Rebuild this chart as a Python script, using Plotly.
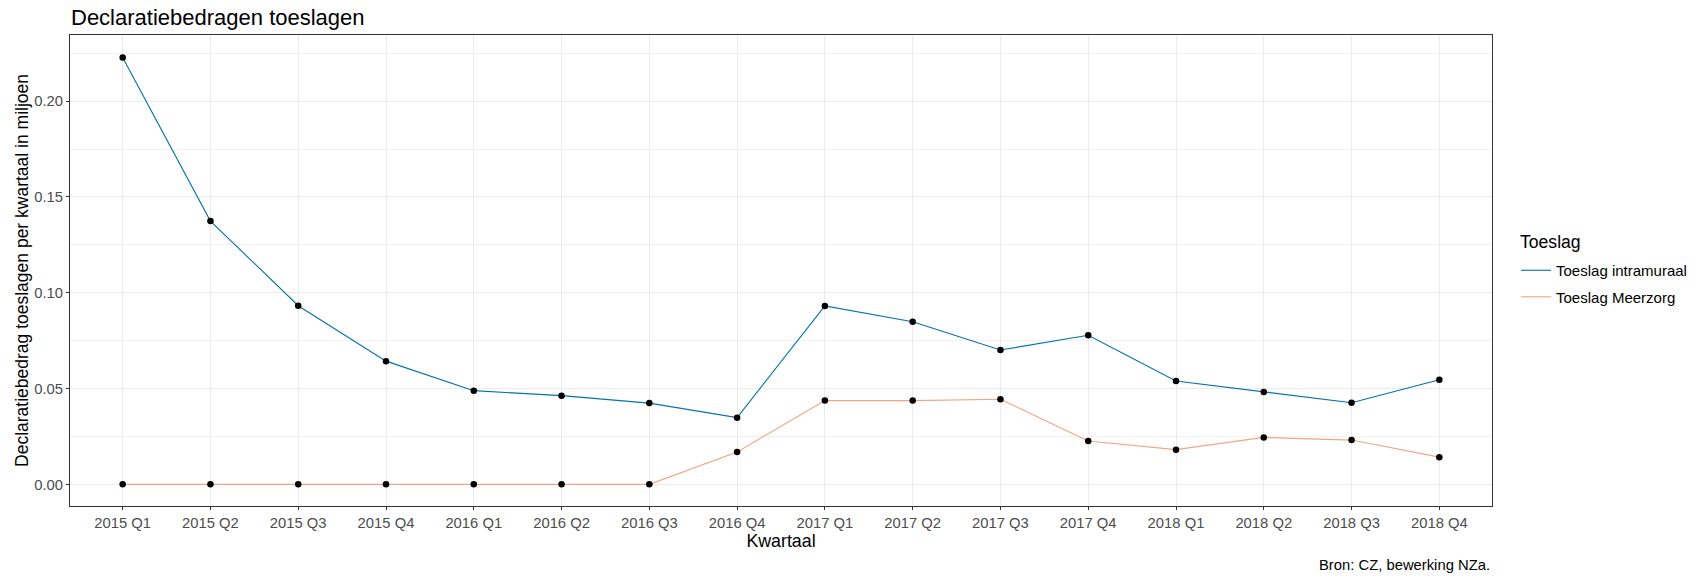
import plotly.graph_objects as go

kwartalen = ["2015 Q1", "2015 Q2", "2015 Q3", "2015 Q4", "2016 Q1", "2016 Q2", "2016 Q3", "2016 Q4",
             "2017 Q1", "2017 Q2", "2017 Q3", "2017 Q4", "2018 Q1", "2018 Q2", "2018 Q3", "2018 Q4"]
intramuraal = [0.2227, 0.1374, 0.0932, 0.0643, 0.0489, 0.0463, 0.0424, 0.0348,
               0.0931, 0.0849, 0.0701, 0.0778, 0.0539, 0.0482, 0.0426, 0.0546]
meerzorg = [0.0, 0.0, 0.0, 0.0, 0.0, 0.0, 0.0, 0.0169,
            0.0437, 0.0437, 0.0444, 0.0226, 0.0181, 0.0245, 0.0231, 0.0142]

FONT = "Liberation Sans"
blauw = "#0571B0"
oranje = "#F4A582"

fig = go.Figure()
# lijnen (alleen deze in de legenda), elk in eigen groep voor extra ruimte
fig.add_trace(go.Scatter(x=kwartalen, y=intramuraal, mode="lines", name="Toeslag intramuraal",
                         legendgroup="a", line=dict(color=blauw, width=1.1)))
fig.add_trace(go.Scatter(x=kwartalen, y=meerzorg, mode="lines", name="Toeslag Meerzorg",
                         legendgroup="b", line=dict(color=oranje, width=1.1)))
# punten
for serie in [intramuraal, meerzorg]:
    fig.add_trace(go.Scatter(x=kwartalen, y=serie, mode="markers", showlegend=False,
                             marker=dict(color="black", size=6.5), hoverinfo="skip"))

fig.update_layout(
    width=1707, height=578,
    margin=dict(l=70, r=215, t=35, b=72, autoexpand=False),
    paper_bgcolor="white", plot_bgcolor="white",
    font=dict(family=FONT, color="black"),
    title=dict(text="Declaratiebedragen toeslagen", x=71 / 1707, xanchor="left",
               y=1 - 17 / 578, yanchor="middle", font=dict(size=22, color="black")),
    legend=dict(font=dict(size=15), x=1.0169, xanchor="left", y=1 - (254 - 35) / 471,
                yanchor="top", tracegroupgap=4, bgcolor="rgba(0,0,0,0)"),
)
# legendatitel
fig.add_annotation(text="Toeslag", xref="paper", yref="paper", x=(1518 - 70) / 1422,
                   y=1 - (242 - 35) / 471, xanchor="left", yanchor="middle", showarrow=False,
                   font=dict(size=17.6, color="black"))
fig.update_xaxes(
    type="category", range=[-0.6, 15.6], automargin=False,
    showgrid=True, gridcolor="#EBEBEB", gridwidth=1,
    showline=True, mirror=True, linecolor="#333333", linewidth=1,
    ticks="outside", ticklen=3, tickcolor="#333333",
    tickfont=dict(size=14.8, color="#4D4D4D"),
    title=dict(text="Kwartaal", font=dict(size=17.8), standoff=4),
)
fig.update_yaxes(
    range=[-0.0113, 0.2345], dtick=0.05, tick0=0, tickformat=".2f", automargin=False,
    showgrid=True, gridcolor="#EBEBEB", gridwidth=1, zeroline=False,
    minor=dict(dtick=0.025, tick0=0, showgrid=True, gridcolor="#F2F2F2", gridwidth=0.6),
    showline=True, mirror=True, linecolor="#333333", linewidth=1,
    ticks="outside", ticklen=3, tickcolor="#333333",
    tickfont=dict(size=14.8, color="#4D4D4D"),
    title=dict(text="Declaratiebedrag toeslagen per kwartaal in miljoen", font=dict(size=17.5), standoff=1),
)
fig.add_annotation(text="Bron: CZ, bewerking NZa.", xref="paper", yref="paper",
                   x=1, y=-59 / 471, xanchor="right", yanchor="middle", showarrow=False,
                   font=dict(size=14.8, color="black"))

fig.write_html("out.html", config={"displayModeBar": False},
               post_script="document.body.style.margin='0';")
